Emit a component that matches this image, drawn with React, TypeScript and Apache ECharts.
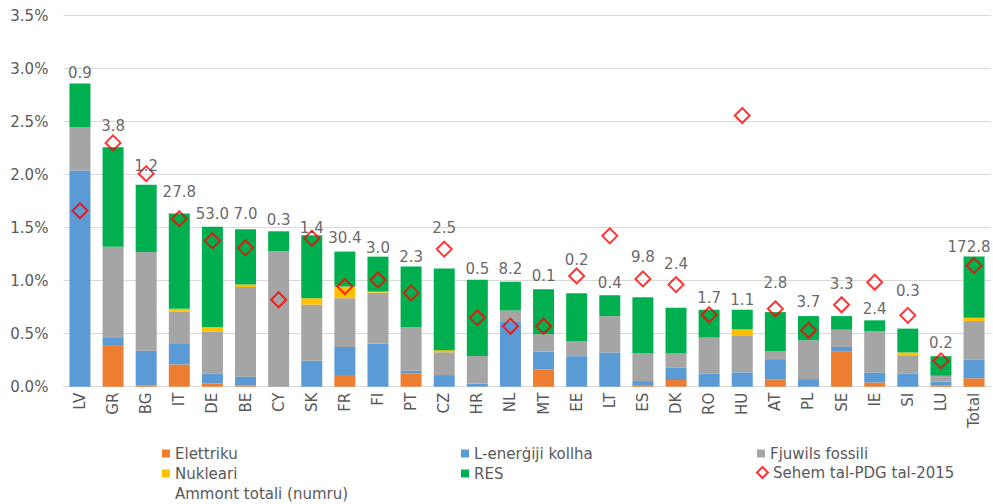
import React, { useEffect, useRef } from "react";
import * as echarts from "echarts";

const categories = ["LV","GR","BG","IT","DE","BE","CY","SK","FR","FI","PT","CZ","HR","NL","MT","EE","LT","ES","DK","RO","HU","AT","PL","SE","IE","SI","LU","Total"];
const elettriku = [0, 0.385, 0.01, 0.21, 0.03, 0.01, 0, 0, 0.11, 0, 0.125, 0, 0, 0, 0.163, 0, 0, 0.015, 0.063, 0, 0, 0.07, 0, 0.335, 0.04, 0, 0.01, 0.079];
const energija = [2.04, 0.075, 0.33, 0.2, 0.095, 0.085, 0, 0.244, 0.265, 0.407, 0.025, 0.11, 0.03, 0.61, 0.167, 0.288, 0.323, 0.038, 0.115, 0.125, 0.135, 0.19, 0.072, 0.04, 0.095, 0.125, 0.037, 0.178];
const fossili = [0.41, 0.86, 0.93, 0.3, 0.395, 0.845, 1.276, 0.53, 0.46, 0.48, 0.41, 0.215, 0.26, 0.11, 0.165, 0.144, 0.343, 0.26, 0.135, 0.338, 0.35, 0.075, 0.366, 0.163, 0.387, 0.172, 0.056, 0.362];
const nukleari = [0, 0, 0, 0.025, 0.04, 0.025, 0, 0.06, 0.11, 0.01, 0, 0.02, 0, 0, 0, 0, 0, 0, 0, 0, 0.056, 0, 0, 0, 0, 0.026, 0, 0.032];
const res = [0.41, 0.94, 0.635, 0.9, 0.95, 0.52, 0.19, 0.595, 0.33, 0.33, 0.575, 0.77, 0.72, 0.27, 0.425, 0.45, 0.197, 0.53, 0.432, 0.263, 0.185, 0.369, 0.228, 0.128, 0.104, 0.225, 0.185, 0.578];
const sehem2015 = [1.66, 2.3, 2.01, 1.585, 1.376, 1.31, 0.82, 1.4, 0.945, 1.007, 0.885, 1.298, 0.65, 0.57, 0.57, 1.045, 1.423, 1.017, 0.963, 0.679, 2.558, 0.735, 0.532, 0.773, 0.985, 0.673, 0.244, 1.142];
const ammontTotali = ["0.9","3.8","1.2","27.8","53.0","7.0","0.3","1.4","30.4","3.0","2.3","2.5","0.5","8.2","0.1","0.2","0.4","9.8","2.4","1.7","1.1","2.8","3.7","3.3","2.4","0.3","0.2","172.8"];
const ammontLabelY = [2.96, 2.455, 2.08, 1.84, 1.63, 1.63, 1.57, 1.5, 1.4, 1.31, 1.22, 1.5, 1.11, 1.11, 1.04, 1.195, 0.976, 1.22, 1.157, 0.835, 0.82, 0.976, 0.8, 0.97, 0.735, 0.907, 0.413, 1.32];
const yTicks = { min: 0, max: 3.5, interval: 0.5 };

const FONT = "'DejaVu Sans', 'Liberation Sans', Arial, sans-serif";
const TXT = "#595959";

export default function App() {
  const ref = useRef<HTMLDivElement>(null);
  useEffect(() => {
    if (!ref.current) return;
    const chart = echarts.init(ref.current, null, { renderer: "svg" });
    const barSeries = (name: string, data: number[], color: string) => ({
      name,
      type: "bar",
      stack: "a",
      data,
      barWidth: 21,
      itemStyle: { color },
      emphasis: { disabled: true },
    });
    const legendItem = (name: string, left: number, top: number, extra: any = {}) => ({
      left,
      top,
      orient: "horizontal",
      itemWidth: 8,
      itemHeight: 8,
      itemGap: 0,
      padding: 0,
      selectedMode: false,
      textStyle: { color: TXT, fontSize: 15, fontFamily: FONT },
      data: [{ name, icon: "rect", ...extra }],
    });
    const lastIdx = ammontLabelY.length - 1;
    chart.setOption({
      animation: false,
      textStyle: { fontFamily: FONT },
      grid: { left: 63.4, right: 2.4, top: 15.7, bottom: 117.3, containLabel: false },
      xAxis: {
        type: "category",
        data: categories,
        axisTick: { show: false },
        axisLine: { lineStyle: { color: "#d9d9d9", width: 1 } },
        axisLabel: { rotate: 90, color: TXT, fontSize: 15, fontFamily: FONT, margin: 6, interval: 0 },
      },
      yAxis: {
        type: "value",
        min: yTicks.min,
        max: yTicks.max,
        interval: yTicks.interval,
        axisLine: { show: false },
        axisTick: { show: false },
        splitLine: { lineStyle: { color: "#d9d9d9", width: 1 } },
        axisLabel: {
          color: TXT,
          fontSize: 15,
          fontFamily: FONT,
          margin: 15,
          formatter: (v: number) => v.toFixed(1) + "%",
        },
      },
      legend: [
        legendItem("Elettriku", 162, 446),
        legendItem("Nukleari", 162, 466),
        legendItem("Ammont totali (numru)", 162, 486, { itemStyle: { opacity: 0 } }),
        legendItem("L-enerġiji kollha", 461, 446),
        legendItem("RES", 461, 466),
        legendItem("Fjuwils fossili", 757, 446),
        {
          left: 756,
          top: 465,
          itemWidth: 11,
          itemHeight: 11,
          itemGap: 0,
          padding: 0,
          selectedMode: false,
          textStyle: { color: TXT, fontSize: 15, fontFamily: FONT },
          data: [
            {
              name: "Sehem tal-PDG tal-2015",
              icon: "diamond",
              itemStyle: { color: "rgba(0,0,0,0)", borderColor: "#FF0000", borderWidth: 2 },
            },
          ],
        },
      ],
      series: [
        barSeries("Elettriku", elettriku, "#ED7D31"),
        barSeries("L-enerġiji kollha", energija, "#5B9BD5"),
        barSeries("Fjuwils fossili", fossili, "#A5A5A5"),
        barSeries("Nukleari", nukleari, "#FFC000"),
        barSeries("RES", res, "#00B050"),
        {
          name: "Sehem tal-PDG tal-2015",
          type: "scatter",
          data: sehem2015,
          symbol: "diamond",
          symbolSize: 15,
          z: 5,
          itemStyle: { color: "rgba(0,0,0,0)", borderColor: "#FF0000", borderWidth: 2 },
          emphasis: { disabled: true },
        },
        {
          name: "Ammont totali (numru)",
          type: "scatter",
          data: ammontLabelY.map((v, i) =>
            i === lastIdx ? { value: v, label: { offset: [-5, 0] } } : v
          ),
          symbolSize: 0,
          z: 6,
          itemStyle: { color: "rgba(0,0,0,0)" },
          label: {
            show: true,
            position: "inside",
            color: "#404040",
            fontSize: 15,
            fontFamily: FONT,
            formatter: (p: any) => ammontTotali[p.dataIndex],
          },
          emphasis: { disabled: true },
        },
      ],
    });
    return () => chart.dispose();
  }, []);
  return <div ref={ref} style={{ position: "absolute", left: 0, top: 0, width: 993, height: 504 }} />;
}
